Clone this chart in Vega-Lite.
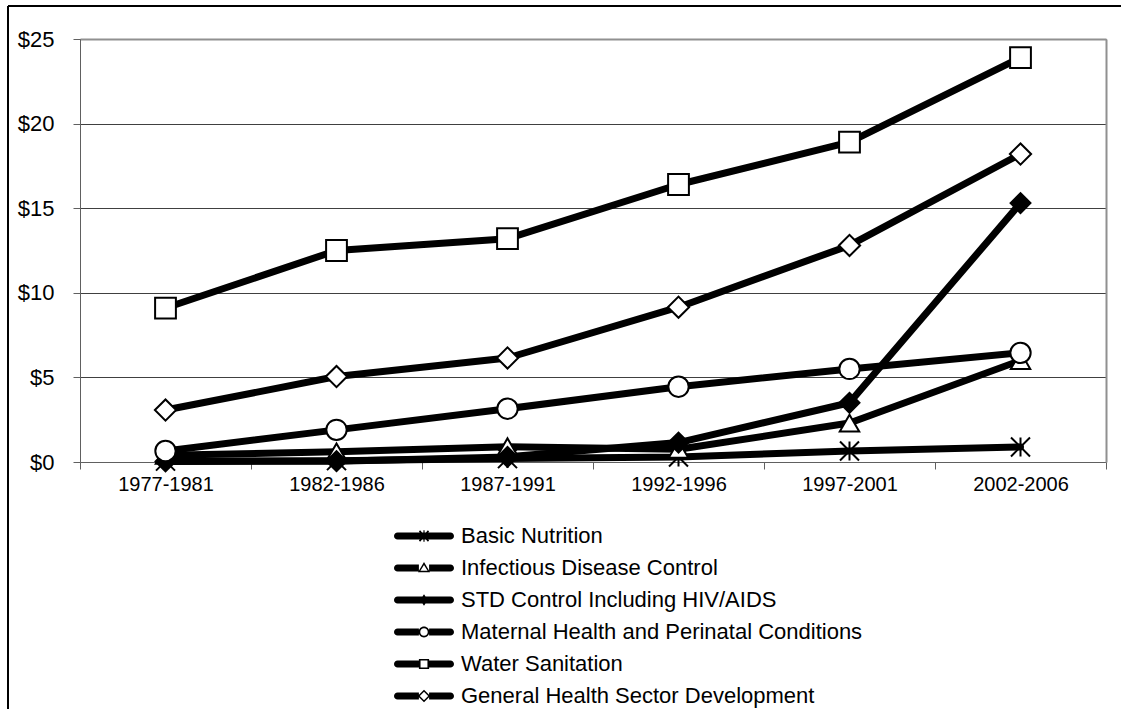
{
  "$schema": "https://vega.github.io/schema/vega-lite/v6.json",
  "width": 1113,
  "height": 703,
  "autosize": {"type": "none"},
  "padding": {"left": 8, "top": 6, "right": 0, "bottom": 0},
  "background": "white",
  "config": {
    "view": {"stroke": "black", "strokeWidth": 2, "strokeDash": [1113, 1816, 703, 0]},
    "font": "Liberation Sans",
    "axis": {"labelFont": "Liberation Sans", "labelFontSize": 20, "labelColor": "black", "domainColor": "#606060", "tickColor": "#606060", "gridColor": "#404040", "title": null}
  },
  "data": {
    "values": [
      {"series": "Basic Nutrition", "period": "1977-1981", "value": 0.05},
      {"series": "Basic Nutrition", "period": "1982-1986", "value": 0.08},
      {"series": "Basic Nutrition", "period": "1987-1991", "value": 0.2},
      {"series": "Basic Nutrition", "period": "1992-1996", "value": 0.3},
      {"series": "Basic Nutrition", "period": "1997-2001", "value": 0.65},
      {"series": "Basic Nutrition", "period": "2002-2006", "value": 0.89},
      {"series": "Infectious Disease Control", "period": "1977-1981", "value": 0.4},
      {"series": "Infectious Disease Control", "period": "1982-1986", "value": 0.6},
      {"series": "Infectious Disease Control", "period": "1987-1991", "value": 0.9},
      {"series": "Infectious Disease Control", "period": "1992-1996", "value": 0.75},
      {"series": "Infectious Disease Control", "period": "1997-2001", "value": 2.3},
      {"series": "Infectious Disease Control", "period": "2002-2006", "value": 6.0},
      {"series": "STD Control Including HIV/AIDS", "period": "1977-1981", "value": 0.03},
      {"series": "STD Control Including HIV/AIDS", "period": "1982-1986", "value": 0.05},
      {"series": "STD Control Including HIV/AIDS", "period": "1987-1991", "value": 0.3},
      {"series": "STD Control Including HIV/AIDS", "period": "1992-1996", "value": 1.15},
      {"series": "STD Control Including HIV/AIDS", "period": "1997-2001", "value": 3.5},
      {"series": "STD Control Including HIV/AIDS", "period": "2002-2006", "value": 15.3},
      {"series": "Maternal Health and Perinatal Conditions", "period": "1977-1981", "value": 0.65},
      {"series": "Maternal Health and Perinatal Conditions", "period": "1982-1986", "value": 1.9},
      {"series": "Maternal Health and Perinatal Conditions", "period": "1987-1991", "value": 3.15},
      {"series": "Maternal Health and Perinatal Conditions", "period": "1992-1996", "value": 4.45},
      {"series": "Maternal Health and Perinatal Conditions", "period": "1997-2001", "value": 5.5},
      {"series": "Maternal Health and Perinatal Conditions", "period": "2002-2006", "value": 6.45},
      {"series": "Water Sanitation", "period": "1977-1981", "value": 9.1},
      {"series": "Water Sanitation", "period": "1982-1986", "value": 12.5},
      {"series": "Water Sanitation", "period": "1987-1991", "value": 13.2},
      {"series": "Water Sanitation", "period": "1992-1996", "value": 16.4},
      {"series": "Water Sanitation", "period": "1997-2001", "value": 18.9},
      {"series": "Water Sanitation", "period": "2002-2006", "value": 23.9},
      {"series": "General Health Sector Development", "period": "1977-1981", "value": 3.07},
      {"series": "General Health Sector Development", "period": "1982-1986", "value": 5.05},
      {"series": "General Health Sector Development", "period": "1987-1991", "value": 6.15},
      {"series": "General Health Sector Development", "period": "1992-1996", "value": 9.15},
      {"series": "General Health Sector Development", "period": "1997-2001", "value": 12.8},
      {"series": "General Health Sector Development", "period": "2002-2006", "value": 18.2}
    ]
  },
  "layer": [
    {
      "mark": {"type": "line", "color": "black", "strokeWidth": 7, "strokeJoin": "round", "strokeCap": "round"},
      "encoding": {
        "x": {"field": "period", "type": "ordinal",
              "scale": {"type": "band", "range": [72, 1098], "paddingInner": 0, "paddingOuter": 0},
              "axis": {"orient": "bottom", "offset": -247, "tickBand": "extent", "tickSize": 7, "labelPadding": 5, "grid": false, "labelAngle": 0}},
        "y": {"field": "value", "type": "quantitative",
              "scale": {"domain": [0, 25], "range": [456, 33], "nice": false},
              "axis": {"orient": "left", "offset": -72, "values": [0, 5, 10, 15, 20, 25], "labelExpr": "'$' + datum.value", "labelFontSize": 22, "tickSize": 7, "labelPadding": 19, "grid": true, "gridWidth": 1}},
        "detail": {"field": "series"}
      }
    },
    {
      "mark": {"type": "point", "stroke": "black", "strokeWidth": 2, "opacity": 1},
      "encoding": {
        "x": {"field": "period", "type": "ordinal",
              "scale": {"type": "band", "range": [72, 1098], "paddingInner": 0, "paddingOuter": 0},
              "axis": {"orient": "top", "offset": -33, "labels": false, "ticks": false, "grid": false, "domain": true, "domainColor": "#909090", "domainWidth": 2}},
        "y": {"field": "value", "type": "quantitative",
              "scale": {"domain": [0, 25], "range": [456, 33], "nice": false},
              "axis": {"orient": "right", "offset": -15, "labels": false, "ticks": false, "grid": false, "domain": true, "domainColor": "#909090", "domainWidth": 2}},
        "shape": {"field": "series", "type": "nominal", "legend": null,
                  "scale": {"domain": ["Basic Nutrition", "Infectious Disease Control", "STD Control Including HIV/AIDS", "Maternal Health and Perinatal Conditions", "Water Sanitation", "General Health Sector Development"],
                            "range": ["M-1,-1L1,1M-1,1L1,-1M0,-1L0,1", "triangle-up", "diamond", "circle", "square", "diamond"]}},
        "size": {"field": "series", "type": "nominal", "legend": null,
                 "scale": {"domain": ["Basic Nutrition", "Infectious Disease Control", "STD Control Including HIV/AIDS", "Maternal Health and Perinatal Conditions", "Water Sanitation", "General Health Sector Development"],
                           "range": [361, 450, 160, 330, 256, 400]}},
        "fill": {"field": "series", "type": "nominal", "legend": null,
                 "scale": {"domain": ["Basic Nutrition", "Infectious Disease Control", "STD Control Including HIV/AIDS", "Maternal Health and Perinatal Conditions", "Water Sanitation", "General Health Sector Development"],
                           "range": ["white", "white", "black", "white", "white", "white"]}}
      }
    },
    {
      "transform": [{"filter": "datum.series == 'none'"}],
      "mark": {"type": "point", "filled": true, "color": "black", "opacity": 1, "size": 3600},
      "encoding": {
        "x": {"field": "period", "type": "ordinal",
              "scale": {"type": "band", "range": [72, 1098], "paddingInner": 0, "paddingOuter": 0}, "axis": null},
        "y": {"field": "value", "type": "quantitative",
              "scale": {"domain": [0, 25], "range": [456, 33], "nice": false}, "axis": null},
        "shape": {"field": "series", "type": "nominal",
                  "scale": {"domain": ["Basic Nutrition", "Infectious Disease Control", "STD Control Including HIV/AIDS", "Maternal Health and Perinatal Conditions", "Water Sanitation", "General Health Sector Development"],
                            "range": [
                              "M-0.88,-0.12H0.88A0.12,0.12 0 0 1 0.88,0.12H-0.88A0.12,0.12 0 0 1 -0.88,-0.12Z M-0.02,-0.19H0.02V0.19H-0.02Z M-0.17,-0.15L-0.13,-0.19L0.17,0.15L0.13,0.19Z M0.13,-0.19L0.17,-0.15L-0.13,0.19L-0.17,0.15Z",
                              "M-0.88,-0.12H-0.17V0.12H-0.88A0.12,0.12 0 0 1 -0.88,-0.12Z M0.17,-0.12H0.88A0.12,0.12 0 0 1 0.88,0.12H0.17Z M0,-0.2L0.2,0.14L-0.2,0.14Z M0,-0.1L-0.12,0.095L0.12,0.095Z",
                              "M-0.88,-0.12H0.88A0.12,0.12 0 0 1 0.88,0.12H-0.88A0.12,0.12 0 0 1 -0.88,-0.12Z M0,-0.19L0.13,0L0,0.19L-0.13,0Z",
                              "M-0.88,-0.12H-0.17V0.12H-0.88A0.12,0.12 0 0 1 -0.88,-0.12Z M0.17,-0.12H0.88A0.12,0.12 0 0 1 0.88,0.12H0.17Z M0.18,0A0.18,0.18 0 1 1 -0.18,0A0.18,0.18 0 1 1 0.18,0Z M0.125,0A0.125,0.125 0 1 0 -0.125,0A0.125,0.125 0 1 0 0.125,0Z",
                              "M-0.88,-0.12H-0.17V0.12H-0.88A0.12,0.12 0 0 1 -0.88,-0.12Z M0.17,-0.12H0.88A0.12,0.12 0 0 1 0.88,0.12H0.17Z M-0.17,-0.17H0.17V0.17H-0.17Z M-0.115,-0.115V0.115H0.115V-0.115Z",
                              "M-0.88,-0.12H-0.17V0.12H-0.88A0.12,0.12 0 0 1 -0.88,-0.12Z M0.17,-0.12H0.88A0.12,0.12 0 0 1 0.88,0.12H0.17Z M0,-0.21L0.21,0L0,0.21L-0.21,0Z M0,-0.14L-0.14,0L0,0.14L0.14,0Z"
                            ]},
                  "legend": {"title": null, "orient": "none", "legendX": 386, "legendY": 514, "clipHeight": 32, "rowPadding": 0, "symbolSize": 3600, "labelFontSize": 22, "labelFont": "Liberation Sans", "labelColor": "black", "labelOffset": 7, "symbolFillColor": "black", "symbolStrokeWidth": 0, "padding": 0, "labelLimit": 0}}
      }
    }
  ],
  "resolve": {
    "scale": {"shape": "independent"},
    "axis": {"x": "independent", "y": "independent"}
  }
}
